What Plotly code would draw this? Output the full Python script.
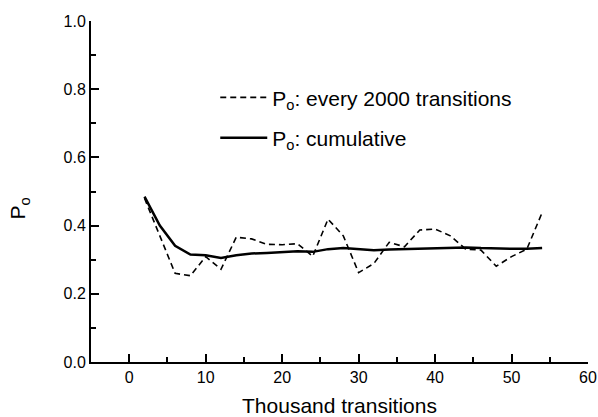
import plotly.graph_objects as go

# Thousand transitions at which Po was evaluated
thousand_transitions = [2, 4, 6, 8, 10, 12, 14, 16, 18, 20, 22, 24, 26, 28,
                        30, 32, 34, 36, 38, 40, 42, 44, 46, 48, 50, 52, 54]

# Open probability for each block of 2000 transitions
po_every_2000 = [0.480, 0.370, 0.260, 0.253, 0.309, 0.272, 0.366, 0.361, 0.345,
                 0.344, 0.347, 0.310, 0.419, 0.370, 0.262, 0.289, 0.351, 0.338,
                 0.387, 0.390, 0.370, 0.331, 0.328, 0.281, 0.309, 0.331, 0.438]

# Running (cumulative) open probability
po_cumulative = [0.485, 0.400, 0.341, 0.315, 0.313, 0.305, 0.313, 0.318, 0.320,
                 0.323, 0.325, 0.323, 0.331, 0.334, 0.330, 0.328, 0.330, 0.331,
                 0.333, 0.335, 0.336, 0.336, 0.334, 0.332, 0.332, 0.332, 0.334]

FONT = "Arial, Liberation Sans, Helvetica, sans-serif"

fig = go.Figure()
fig.add_trace(go.Scatter(
    x=thousand_transitions, y=po_every_2000, mode="lines",
    name="P<sub>o</sub>: every 2000 transitions",
    line=dict(color="black", width=1.6, dash="6px,4px"),
    legendgroup="a",
))
fig.add_trace(go.Scatter(
    x=thousand_transitions, y=po_cumulative, mode="lines",
    name="P<sub>o</sub>: cumulative",
    line=dict(color="black", width=2.5),
    legendgroup="b",
))

fig.update_layout(
    width=598, height=417,
    margin=dict(l=91, r=10, t=21, b=55),
    paper_bgcolor="white", plot_bgcolor="white",
    font=dict(family=FONT, color="black", size=16),
    showlegend=True,
    legend=dict(
        x=0.25, y=0.835, xanchor="left", yanchor="top",
        bgcolor="rgba(0,0,0,0)", font=dict(size=21, family=FONT),
        traceorder="grouped", tracegroupgap=10, itemwidth=47,
    ),
    xaxis=dict(
        range=[-5, 60], tickvals=[0, 10, 20, 30, 40, 50, 60],
        ticks="inside", ticklen=8, tickwidth=2, tickcolor="black",
        minor=dict(tickvals=[5, 15, 25, 35, 45, 55], ticks="inside",
                   ticklen=5, tickwidth=1.5, tickcolor="black"),
        showline=True, linewidth=2, linecolor="black", mirror=False,
        showgrid=False, zeroline=False, automargin=False,
        tickfont=dict(size=16),
        title=dict(text="Thousand transitions", font=dict(size=21), standoff=16),
    ),
    yaxis=dict(
        range=[0, 1.0], tickvals=[0, 0.2, 0.4, 0.6, 0.8, 1.0], tickformat=".1f",
        ticks="inside", ticklen=8, tickwidth=2, tickcolor="black",
        minor=dict(tickvals=[0.1, 0.3, 0.5, 0.7, 0.9], ticks="inside",
                   ticklen=5, tickwidth=1.5, tickcolor="black"),
        showline=True, linewidth=2, linecolor="black", mirror=False,
        showgrid=False, zeroline=False, automargin=False,
        tickfont=dict(size=16),
    ),
    annotations=[dict(
        text="P<sub>o</sub>", textangle=-90, showarrow=False,
        xref="paper", yref="paper", x=-0.145, y=0.45,
        xanchor="center", yanchor="middle",
        font=dict(size=21, family=FONT),
    )],
)

fig.write_html("out.html")
